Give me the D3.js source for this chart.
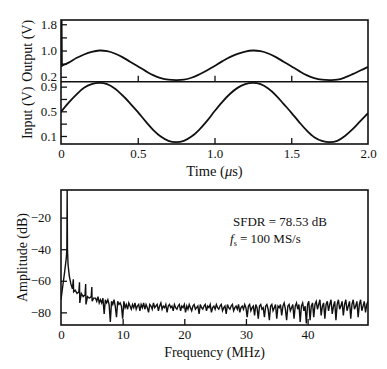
<!DOCTYPE html>
<html>
<head>
<meta charset="utf-8">
<script src="https://cdnjs.cloudflare.com/ajax/libs/d3/7.8.5/d3.min.js"></script>
<style>
  body { margin: 0; background: #fff; }
  svg text { font-family: "Liberation Serif", "Times New Roman", serif; fill: #111; }
</style>
</head>
<body>
<div id="chart"></div>
<script>
// ---- data ----
// time axis (us), sampled every 0.05 us
var timeUs = [0, 0.05, 0.1, 0.15, 0.2, 0.25, 0.3, 0.35, 0.4, 0.45, 0.5, 0.55, 0.6, 0.65, 0.7, 0.75, 0.8, 0.85, 0.9, 0.95,
  1.0, 1.05, 1.1, 1.15, 1.2, 1.25, 1.3, 1.35, 1.4, 1.45, 1.5, 1.55, 1.6, 1.65, 1.7, 1.75, 1.8, 1.85, 1.9, 1.95, 2.0];

var inputV = [0.49, 0.64, 0.77, 0.88, 0.94, 0.96, 0.94, 0.87, 0.76, 0.63, 0.49, 0.34, 0.20, 0.09, 0.02, 0.00, 0.02, 0.09, 0.20, 0.34,
  0.50, 0.65, 0.78, 0.88, 0.94, 0.96, 0.94, 0.87, 0.76, 0.62, 0.48, 0.33, 0.19, 0.08, 0.02, 0.00, 0.02, 0.10, 0.21, 0.34, 0.47];

var outputV = [0.53, 0.63, 0.77, 0.88, 0.96, 1.00, 0.98, 0.91, 0.80, 0.66, 0.52, 0.38, 0.25, 0.16, 0.11, 0.10, 0.11, 0.17, 0.27, 0.39,
  0.53, 0.67, 0.80, 0.90, 0.97, 1.00, 0.98, 0.91, 0.80, 0.66, 0.52, 0.38, 0.25, 0.16, 0.11, 0.10, 0.11, 0.18, 0.28, 0.39, 0.50];

// startup glitch of the output at t = 0
var glitchT = [0.004, 0.006, 0.012];
var glitchV = [1.93, 0.56, 0.52];

var timeTicks = [0, 0.5, 1.0, 1.5, 2.0];
var timeTickLabels = ["0", "0.5", "1.0", "1.5", "2.0"];
var outTicks = [0.2, 0.6, 1.0, 1.4, 1.8];
var outTickLabels = ["0.2", "", "1.0", "", "1.8"];
var inTicks = [0.1, 0.3, 0.5, 0.7, 0.9];
var inTickLabels = ["0.1", "", "0.5", "", "0.9"];

// spectrum: irregular head around the fundamental and harmonics
var headFreq = [0, 0.3, 0.6, 0.85, 0.95, 1.0, 1.05, 1.15, 1.35, 1.6, 1.85, 2.0, 2.05, 2.3, 2.6, 2.9, 3.0, 3.05, 3.3, 3.6,
  3.9, 4.0, 4.05, 4.3, 4.6, 4.9, 5.0, 5.05, 5.3];
var headAmp = [-72, -63, -54, -46, -40, -2, -40, -50, -57, -62, -65, -59, -67, -66, -68, -67, -61, -74, -68, -70,
  -69, -62, -75, -70, -71, -70, -64, -73, -71];

// spectrum tail: one value every 0.2 MHz from 5.6 MHz to 49.8 MHz
var tailStart = 5.6;
var tailStep = 0.2;
var tailAmp = [
  -71, -73, -70, -74, -72, -74, -71, -81, -72, -74,
  -72, -75, -86, -73, -75, -72, -76, -83, -73, -75,
  -74, -76, -84, -73, -77, -75, -78, -74, -76, -78,
  -75, -77, -74, -78, -76, -75, -79, -75, -77, -74,
  -78, -75, -77, -80, -75, -76, -78, -74, -77, -76,
  -75, -79, -76, -74, -78, -76, -77, -75, -80, -76,
  -75, -77, -76, -79, -75, -77, -78, -76, -75, -79,
  -76, -77, -75, -80, -76, -78, -75, -77, -79, -76,
  -75, -78, -77, -76, -81, -75, -77, -78, -76, -75,
  -79, -76, -77, -75, -80, -77, -76, -78, -75, -77,
  -78, -76, -75, -79, -77, -76, -81, -75, -77, -78,
  -76, -75, -79, -77, -76, -78, -75, -80, -77, -76,
  -78, -75, -77, -83, -76, -75, -79, -77, -76, -82,
  -75, -77, -84, -76, -75, -78, -77, -83, -76, -75,
  -78, -85, -76, -75, -79, -77, -75, -84, -76, -77,
  -75, -82, -76, -74, -78, -85, -76, -75, -79, -77,
  -75, -84, -76, -74, -78, -75, -86, -76, -74, -79,
  -76, -87, -75, -73, -85, -76, -74, -83, -75, -73,
  -78, -75, -72, -82, -76, -74, -84, -75, -73, -79,
  -75, -72, -81, -76, -73, -85, -75, -72, -78, -76,
  -73, -82, -75, -72, -79, -76, -73, -84, -75, -72,
  -78, -76, -73, -83, -75, -72, -79, -76, -73, -80,
  -75, -73];

var freqTicks = [0, 10, 20, 30, 40];
var ampTicks = [-20, -40, -60, -80];

// ---- layout ----
var svgWidth = 387;
var svgHeight = 369;
var left = 61, right = 368;
var outTop = 20, outBottom = 81.7;
var inTop = 81.7, inBottom = 144;
var specTop = 190, specBottom = 325;

var svg = d3.select("#chart")
  .append("svg")
  .attr("width", svgWidth)
  .attr("height", svgHeight);

// scales
var xTime = d3.scaleLinear().domain([0, 2.0]).range([left, right]);
var yOut = d3.scaleLinear().domain([0.05, 1.93]).range([outBottom, outTop]);
var yIn = d3.scaleLinear().domain([-0.03, 0.98]).range([inBottom, inTop]);
var xFreq = d3.scaleLinear().domain([0, 49.8]).range([left, right]);
var yAmp = d3.scaleLinear().domain([-88, -2.5]).range([specBottom, specTop]);

var defs = svg.append("defs");
function addClip(id, y0, y1) {
  defs.append("clipPath").attr("id", id)
    .append("rect")
    .attr("x", left).attr("y", y0)
    .attr("width", right - left).attr("height", y1 - y0);
}
addClip("clipOut", outTop, outBottom);
addClip("clipIn", inTop, inBottom);
addClip("clipSpec", specTop, specBottom);

// ---- helper to style an inside-ticks axis ----
function styleAxis(g, fontSize) {
  g.select(".domain").remove();
  g.selectAll(".tick line").attr("stroke", "#111").attr("stroke-width", 1.3);
  g.selectAll(".tick text").style("font-size", fontSize + "px").attr("fill", "#111");
}

// ---- time domain panels ----
// output
var outLine = d3.line()
  .x((d, i) => xTime(timeUs[i]))
  .y(d => yOut(d))
  .curve(d3.curveCatmullRom);

svg.append("path")
  .attr("clip-path", "url(#clipOut)")
  .attr("d", outLine(outputV))
  .attr("fill", "none")
  .attr("stroke", "#111")
  .attr("stroke-width", 1.8);

// glitch at t=0
var glitchLine = d3.line()
  .x((d, i) => xTime(glitchT[i]))
  .y(d => yOut(d));
svg.append("path")
  .attr("clip-path", "url(#clipOut)")
  .attr("d", glitchLine(glitchV))
  .attr("fill", "none")
  .attr("stroke", "#111")
  .attr("stroke-width", 1.8);

// input
var inLine = d3.line()
  .x((d, i) => xTime(timeUs[i]))
  .y(d => yIn(d))
  .curve(d3.curveCatmullRom);

svg.append("path")
  .attr("clip-path", "url(#clipIn)")
  .attr("d", inLine(inputV))
  .attr("fill", "none")
  .attr("stroke", "#111")
  .attr("stroke-width", 1.8);

// x ticks on both time panels (pointing up, inside)
var xTimeAxisTop = d3.axisBottom(xTime)
  .tickValues([0.5, 1.0, 1.5])
  .tickSizeInner(-6).tickSizeOuter(0)
  .tickFormat("");
svg.append("g")
  .attr("transform", `translate(0, ${outBottom})`)
  .call(xTimeAxisTop)
  .call(g => styleAxis(g, 13));

var xTimeAxis = d3.axisBottom(xTime)
  .tickValues(timeTicks)
  .tickSizeInner(-6).tickSizeOuter(0)
  .tickPadding(5)
  .tickFormat((d, i) => timeTickLabels[i]);
svg.append("g")
  .attr("transform", `translate(0, ${inBottom})`)
  .call(xTimeAxis)
  .call(g => styleAxis(g, 13))
  .call(g => g.selectAll(".tick line").filter(d => d === 0 || d === 2.0).remove());

// y axes
var yOutAxis = d3.axisLeft(yOut)
  .tickValues(outTicks)
  .tickSizeInner(-6).tickSizeOuter(0)
  .tickPadding(4)
  .tickFormat((d, i) => outTickLabels[i]);
svg.append("g")
  .attr("transform", `translate(${left}, 0)`)
  .call(yOutAxis)
  .call(g => styleAxis(g, 13));

var yInAxis = d3.axisLeft(yIn)
  .tickValues(inTicks)
  .tickSizeInner(-6).tickSizeOuter(0)
  .tickPadding(4)
  .tickFormat((d, i) => inTickLabels[i]);
svg.append("g")
  .attr("transform", `translate(${left}, 0)`)
  .call(yInAxis)
  .call(g => styleAxis(g, 13));

// frames
svg.append("rect")
  .attr("x", left).attr("y", outTop)
  .attr("width", right - left).attr("height", inBottom - outTop)
  .attr("fill", "none").attr("stroke", "#111").attr("stroke-width", 1.6);
svg.append("line")
  .attr("x1", left).attr("x2", right)
  .attr("y1", outBottom).attr("y2", outBottom)
  .attr("stroke", "#111").attr("stroke-width", 1.6);

// axis titles
svg.append("text")
  .attr("transform", `translate(27, ${(outTop + outBottom) / 2}) rotate(-90)`)
  .attr("text-anchor", "middle")
  .attr("dy", "0.35em")
  .style("font-size", "14px")
  .text("Output (V)");

svg.append("text")
  .attr("transform", `translate(27, ${(inTop + inBottom) / 2}) rotate(-90)`)
  .attr("text-anchor", "middle")
  .attr("dy", "0.35em")
  .style("font-size", "14px")
  .text("Input (V)");

var timeTitle = svg.append("text")
  .attr("x", (left + right) / 2)
  .attr("y", 176)
  .attr("text-anchor", "middle")
  .style("font-size", "14.5px");
timeTitle.append("tspan").text("Time (");
timeTitle.append("tspan").style("font-style", "italic").text("\u03bc");
timeTitle.append("tspan").text("s)");

// ---- spectrum panel ----
var specFreq = headFreq.concat(tailAmp.map((d, i) => tailStart + i * tailStep));
var specAmp = headAmp.concat(tailAmp);

var specLine = d3.line()
  .x((d, i) => xFreq(specFreq[i]))
  .y(d => yAmp(d));

svg.append("path")
  .attr("clip-path", "url(#clipSpec)")
  .attr("d", specLine(specAmp))
  .attr("fill", "none")
  .attr("stroke", "#111")
  .attr("stroke-width", 1.4)
  .attr("stroke-linejoin", "miter");

var xFreqAxis = d3.axisBottom(xFreq)
  .tickValues(freqTicks)
  .tickSizeInner(-6).tickSizeOuter(0)
  .tickPadding(5)
  .tickFormat(d3.format("d"));
svg.append("g")
  .attr("transform", `translate(0, ${specBottom})`)
  .call(xFreqAxis)
  .call(g => styleAxis(g, 13))
  .call(g => g.selectAll(".tick line").filter(d => d === 0).remove());

var yAmpAxis = d3.axisLeft(yAmp)
  .tickValues(ampTicks)
  .tickSizeInner(-6).tickSizeOuter(0)
  .tickPadding(10)
  .tickFormat(d => "\u2212" + Math.abs(d));
svg.append("g")
  .attr("transform", `translate(${left}, 0)`)
  .call(yAmpAxis)
  .call(g => styleAxis(g, 13));

svg.append("rect")
  .attr("x", left).attr("y", specTop)
  .attr("width", right - left).attr("height", specBottom - specTop)
  .attr("fill", "none").attr("stroke", "#111").attr("stroke-width", 1.6);

svg.append("text")
  .attr("transform", `translate(22, ${(specTop + specBottom) / 2}) rotate(-90)`)
  .attr("text-anchor", "middle")
  .attr("dy", "0.35em")
  .style("font-size", "14px")
  .text("Amplitude (dB)");

svg.append("text")
  .attr("x", (left + right) / 2)
  .attr("y", 357)
  .attr("text-anchor", "middle")
  .style("font-size", "14px")
  .text("Frequency (MHz)");

// annotations
svg.append("text")
  .attr("x", 233)
  .attr("y", 226)
  .style("font-size", "13px")
  .text("SFDR = 78.53 dB");

var fsText = svg.append("text")
  .attr("x", 230)
  .attr("y", 243)
  .style("font-size", "13px");
fsText.append("tspan").style("font-style", "italic").text("f");
fsText.append("tspan").attr("dy", 3).style("font-size", "8px").text("s");
fsText.append("tspan").attr("dy", -3).text(" = 100 MS/s");
</script>
</body>
</html>
